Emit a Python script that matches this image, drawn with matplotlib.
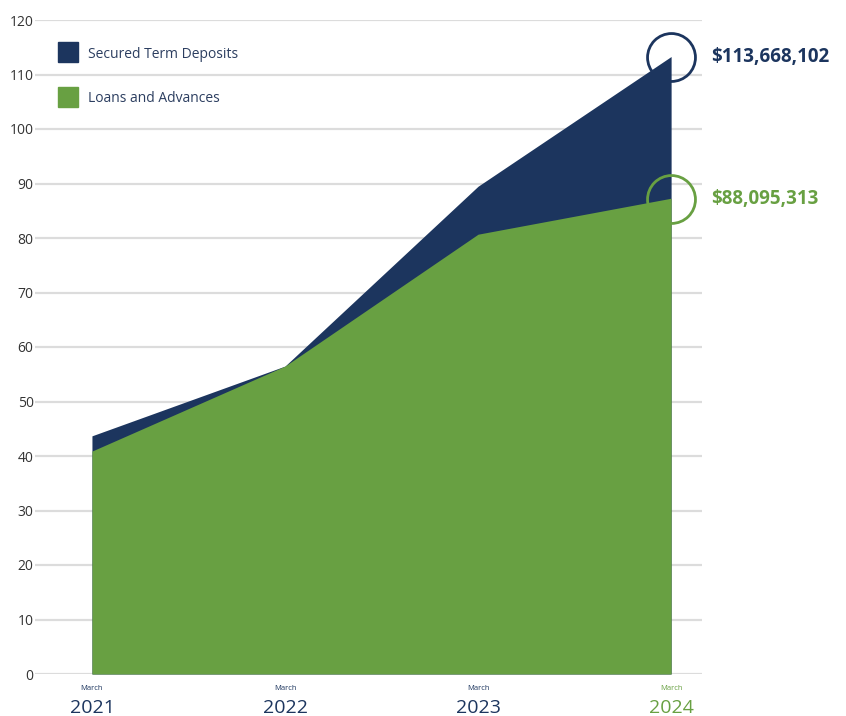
import matplotlib.pyplot as plt
import matplotlib.transforms as mtransforms

plt.rcParams['font.family'] = ['Open Sans', 'DejaVu Sans']

# Data (millions)
years = ['2021', '2022', '2023', '2024']
months = ['March', 'March', 'March', 'March']
deposits = [43.7, 56.5, 89.5, 113.3]
loans = [40.9, 56.5, 80.7, 87.3]
deposits_label = '$113,668,102'
loans_label = '$88,095,313'

navy = '#1c355e'
green = '#68a042'
grid_c = '#dcdcdc'
text_c = '#333333'

fig = plt.figure(figsize=(8.46, 7.16), dpi=100)
ax = fig.add_axes([35 / 846, 1 - 674 / 716, (702 - 35) / 846, (674 - 20) / 716])

x = list(range(len(years)))
ax.fill_between(x, 0, deposits, color=navy, linewidth=0, zorder=2)
ax.fill_between(x, 0, loans, color=green, linewidth=0, zorder=3)

ax.set_xlim(-0.295, 3.16)
ax.set_ylim(0, 120)
ax.set_yticks(range(0, 121, 10))
ax.yaxis.grid(True, color=grid_c, linewidth=1.6, zorder=1)
ax.set_axisbelow(True)
for s in ax.spines.values():
    s.set_visible(False)
ax.tick_params(axis='y', length=0, pad=1, labelsize=10, labelcolor=text_c)
ax.set_xticks([])

# x labels: small month + year
trans = mtransforms.blended_transform_factory(ax.transData, fig.transFigure)
for i, (m, yr) in enumerate(zip(months, years)):
    c = green if i == len(years) - 1 else navy
    ax.text(i, 1 - 689 / 716, m, transform=trans, ha='center', va='center',
            fontsize=5.5, color=c)
    ax.text(i, 1 - 708 / 716, yr, transform=trans, ha='center', va='center',
            fontsize=14, color=c)

# legend
for yy, sq, lab, c in [(54, 42, 'Secured Term Deposits', navy), (98, 87, 'Loans and Advances', green)]:
    fig.patches.append(plt.Rectangle((58 / 846, 1 - (sq + 20) / 716), 20 / 846, 20 / 716,
                                     transform=fig.transFigure, color=c))
    fig.text(88 / 846, 1 - yy / 716, lab, ha='left', va='center', fontsize=10, color='#2c3e60')

# end circles and value labels
last = len(years) - 1
ax.plot(last, 113.3, marker='o', markersize=34.5, markerfacecolor='none',
        markeredgecolor=navy, markeredgewidth=2, clip_on=False, zorder=4)
ax.plot(last, 87.2, marker='o', markersize=34.5, markerfacecolor='none',
        markeredgecolor=green, markeredgewidth=2, clip_on=False, zorder=4)
ax.text(3.205, 113.3, deposits_label, ha='left', va='center', fontsize=13.5,
        fontweight='bold', color=navy, clip_on=False)
ax.text(3.205, 87.2, loans_label, ha='left', va='center', fontsize=13.5,
        fontweight='bold', color=green, clip_on=False)

fig.savefig('out.png', dpi=100)
